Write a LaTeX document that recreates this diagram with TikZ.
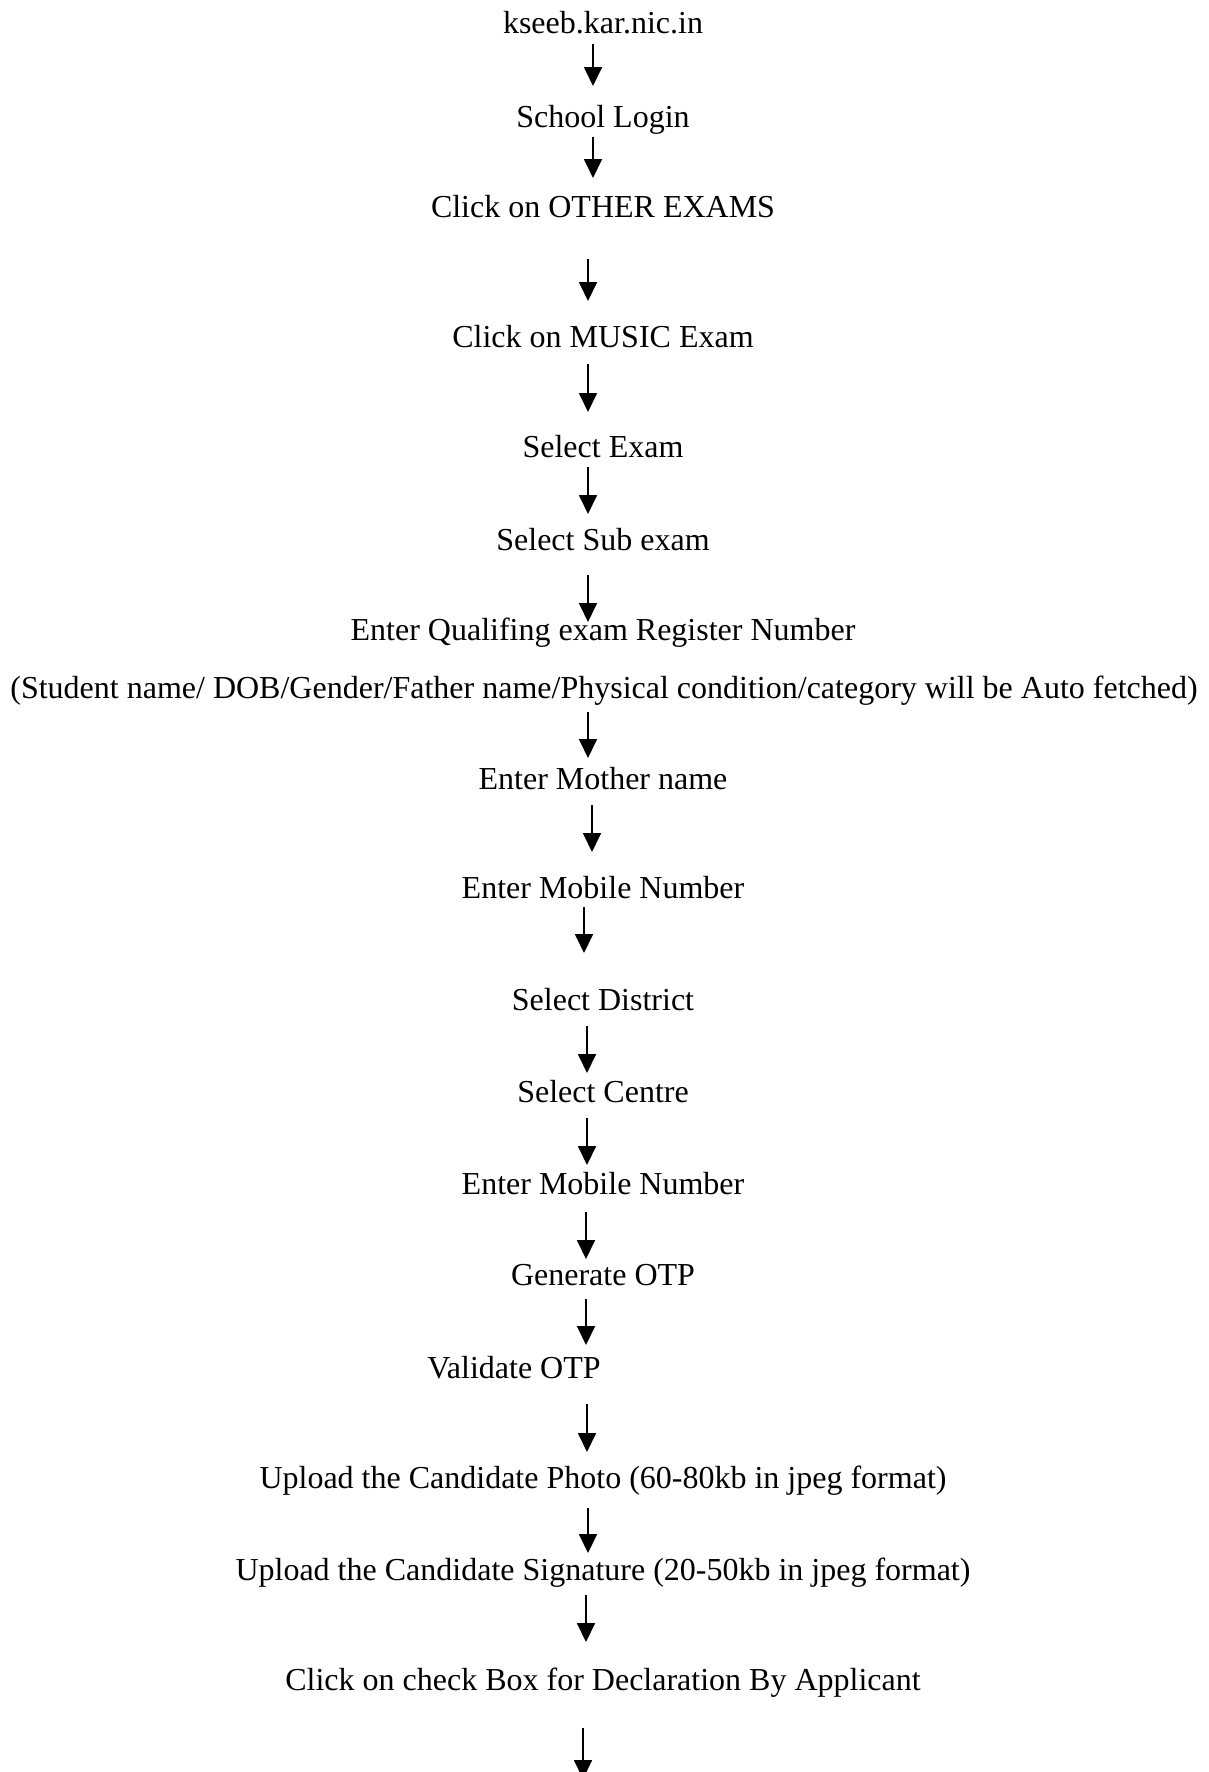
\documentclass[tikz,border=0pt]{standalone}
\usepackage{fontspec}
\setmainfont{Liberation Serif}
\usetikzlibrary{arrows.meta}
\tikzset{
  lbl/.style={anchor=base, inner sep=0pt, font=\fontsize{32}{38}\selectfont},
  arr/.style={-{Triangle[width=18pt,length=19pt]}, line width=1.8pt}
}
\begin{document}
\begin{tikzpicture}[x=1pt, y=-1pt]
\useasboundingbox (0,0) rectangle (1209,1772);

\node [lbl] (site) at (603, 33) {kseeb.kar.nic.in};
\node [lbl] (login) at (603, 127) {School Login};
\node [lbl] (other) at (603, 217) {Click on OTHER EXAMS};
\node [lbl] (music) at (603, 347) {Click on MUSIC Exam};
\node [lbl] (exam) at (603, 457) {Select Exam};
\node [lbl] (subexam) at (603, 550) {Select Sub exam};
\node [lbl] (regno) at (603, 640) {Enter Qualifing exam Register Number};
\node [lbl] (fetch) at (604, 698) {(Student name/ DOB/Gender/Father name/Physical condition/category will be Auto fetched)};
\node [lbl] (mother) at (603, 789) {Enter Mother name};
\node [lbl] (mobile) at (603, 898) {Enter Mobile Number};
\node [lbl] (district) at (603, 1010) {Select District};
\node [lbl] (centre) at (603, 1102) {Select Centre};
\node [lbl] (mobileb) at (603, 1194) {Enter Mobile Number};
\node [lbl] (genotp) at (603, 1285) {Generate OTP};
\node [lbl] (valotp) at (514, 1378) {Validate OTP};
\node [lbl] (photo) at (603, 1488) {Upload the Candidate Photo (60-80kb in jpeg format)};
\node [lbl] (sign) at (603, 1580) {Upload the Candidate Signature (20-50kb in jpeg format)};
\node [lbl] (declare) at (603, 1690) {Click on check Box for Declaration By Applicant};
\coordinate (next) at (583, 1779);

% arrows: from/to/start shift/end shift
\foreach \a/\b/\sx/\sy/\ex/\ey in {site/login/-10/11/-10/-41, login/other/-10/10/-10/-39,
  other/music/-15/42/-15/-46, music/exam/-15/17/-15/-45, exam/subexam/-15/10/-15/-36,
  subexam/regno/-15/25/-15/-18, fetch/mother/-16/14/-15/-31, mother/mobile/-11/16/-11/-46,
  mobile/district/-19/9/-19/-57, district/centre/-16/16/-16/-29, centre/mobileb/-16/16/-16/-29,
  mobileb/genotp/-17/18/-17/-26, genotp/valotp/-17/14/72/-33, valotp/photo/73/26/-16/-36,
  photo/sign/-15/20/-15/-27, sign/declare/-17/15/-17/-48}{
\draw [arr] ([shift={(\sx,\sy)}]\a.base) -- ([shift={(\ex,\ey)}]\b.base);
}
\draw [arr] ([shift={(-20,38)}]declare.base) -- (next);
\end{tikzpicture}
\end{document}
